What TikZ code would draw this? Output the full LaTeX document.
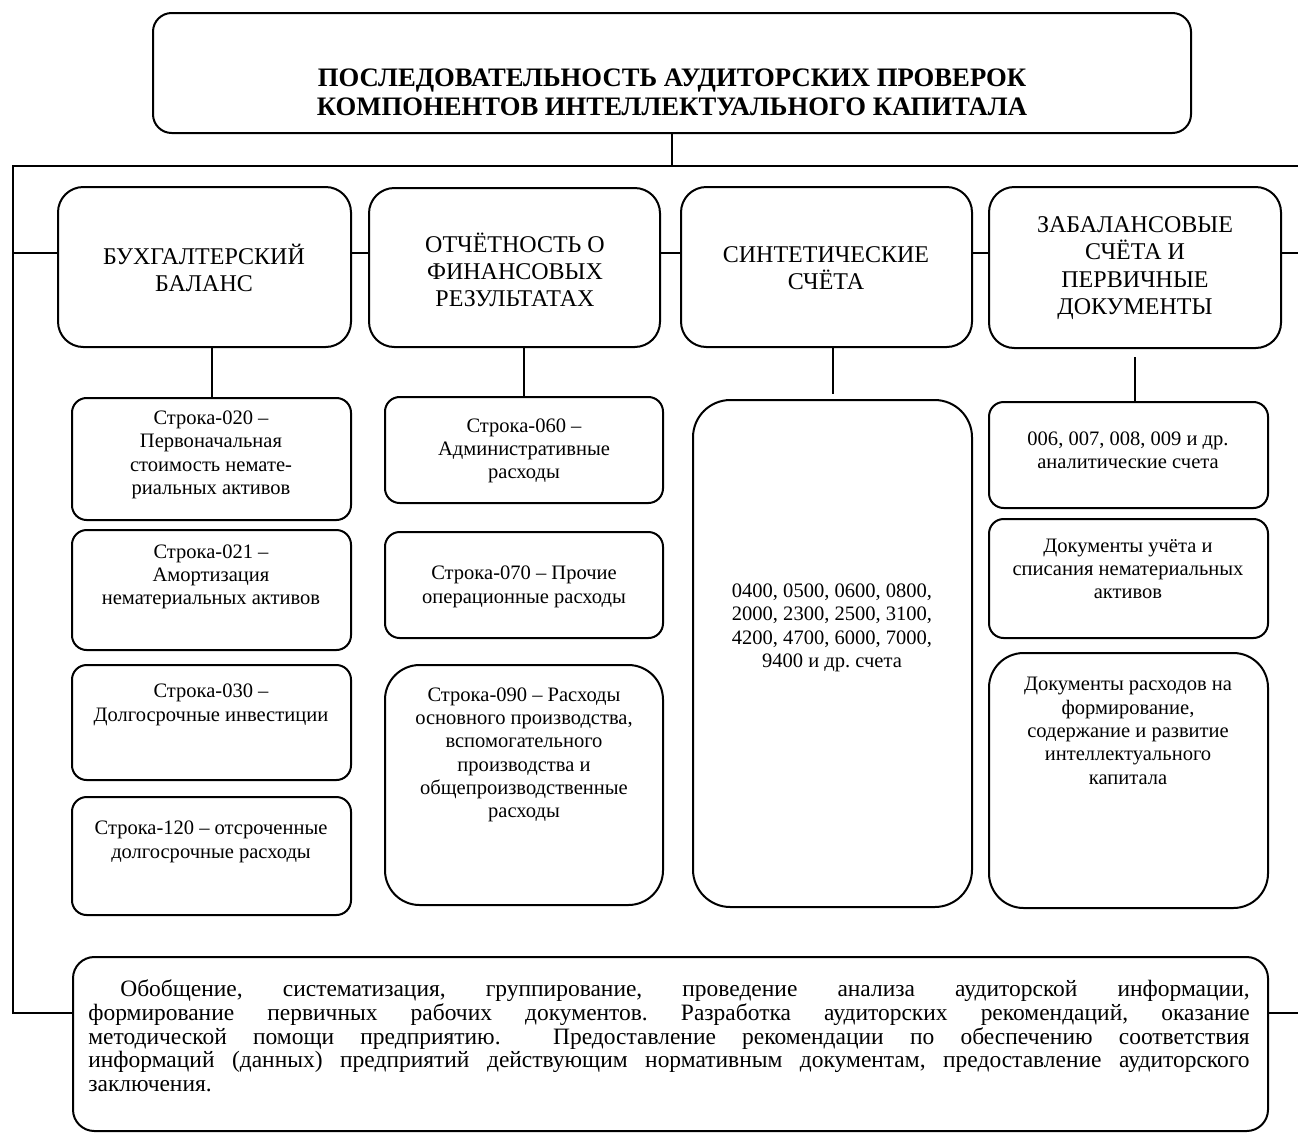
\documentclass[tikz,border=0pt]{standalone}
\usepackage{fontspec}
\setmainfont{Liberation Serif}
\usetikzlibrary{fit}
\frenchspacing

\begin{document}
\begin{tikzpicture}[x=0.75pt,y=0.75pt,yscale=-1,xscale=1,
  blk/.style={draw, line width=1.5pt, rounded corners=#1, inner sep=0pt},
  blk/.default=11pt,
  lnk/.style={line width=1.5pt},
  ttl/.style={align=center, inner sep=0pt, font=\fontsize{20}{22}\selectfont\bfseries},
  hdr/.style={align=center, inner sep=0pt, font=\fontsize{18}{20.4}\selectfont},
  cell/.style={align=center, inner sep=0pt, font=\fontsize{15.4}{17.5}\selectfont},
  para/.style={align=justify, inner sep=0pt, text width=871pt, font=\fontsize{17.6}{17.8}\selectfont}]
\useasboundingbox (0,0) rectangle (1298,1136);

%Title
\node[blk=14pt, fit={(153,13) (1191,133)}] (ttlbox) {};
\node[ttl] (ttltxt) at (672,92) {ПОСЛЕДОВАТЕЛЬНОСТЬ АУДИТОРСКИХ ПРОВЕРОК\\КОМПОНЕНТОВ ИНТЕЛЛЕКТУАЛЬНОГО КАПИТАЛА};

%Headers
\node[blk=19pt, fit={(58,187) (351,347)}] (buh) {};
\node[hdr] (tbuh) at (204,268) {БУХГАЛТЕРСКИЙ\\БАЛАНС};
\node[blk=19pt, fit={(369,188) (660,347)}] (otch) {};
\node[hdr] (totch) at (515,270) {ОТЧЁТНОСТЬ О\\ФИНАНСОВЫХ\\РЕЗУЛЬТАТАХ};
\node[blk=19pt, fit={(681,187) (972,347)}] (sint) {};
\node[hdr] (tsint) at (826,268) {СИНТЕТИЧЕСКИЕ\\СЧЁТА};
\node[blk=19pt, fit={(989,187) (1281,348)}] (zab) {};
\node[hdr] (tzab) at (1135,268) {ЗАБАЛАНСОВЫЕ\\СЧЁТА И\\ПЕРВИЧНЫЕ\\ДОКУМЕНТЫ};

%Column 1
\node[blk, fit={(72,398) (351,520)}] (c020) {};
\node[cell] (t020) at (211,455) {Строка-020 –\\Первоначальная\\стоимость немате-\\риальных активов};
\node[blk, fit={(72,530) (351,650)}] (c021) {};
\node[cell] (t021) at (211,577) {Строка-021 –\\Амортизация\\нематериальных активов};
\node[blk, fit={(72,665) (351,780)}] (c030) {};
\node[cell] (t030) at (211,705) {Строка-030 –\\Долгосрочные инвестиции};
\node[blk, fit={(72,797) (351,915)}] (c120) {};
\node[cell] (t120) at (211,842) {Строка-120 – отсроченные\\долгосрочные расходы};

%Column 2
\node[blk, fit={(385,397) (663,503)}] (c060) {};
\node[cell] (t060) at (524,451) {Строка-060 –\\Административные\\расходы};
\node[blk, fit={(385,532) (663,638)}] (c070) {};
\node[cell] (t070) at (524,587) {Строка-070 – Прочие\\операционные расходы};
\node[blk=26pt, fit={(385,665) (663,905)}] (c090) {};
\node[cell] (t090) at (524,755) {Строка-090 – Расходы\\основного производства,\\вспомогательного\\производства и\\общепроизводственные\\расходы};

%Column 3
\node[blk=28pt, fit={(693,400) (972,907)}] (c3) {};
\node[cell] (t3) at (832,628) {0400, 0500, 0600, 0800,\\2000, 2300, 2500, 3100,\\4200, 4700, 6000, 7000,\\9400 и др. счета};

%Column 4
\node[blk, fit={(989,402) (1268,508)}] (c006) {};
\node[cell] (t006) at (1128,450) {006, 007, 008, 009 и др.\\аналитические счета};
\node[blk, fit={(989,519) (1268,638)}] (cuch) {};
\node[cell] (tuch) at (1128,569) {Документы учёта и\\списания нематериальных\\активов};
\node[blk=26pt, fit={(989,653) (1268,908)}] (crash) {};
\node[cell] (trash) at (1128,731) {Документы расходов на\\формирование,\\содержание и развитие\\интеллектуального\\капитала};

%Summary
\node[blk=16pt, fit={(73,957) (1268,1131)}] (sum) {};
\node[para] (sumtxt) at (669,1036) {\hspace*{24pt}Обобщение, систематизация, группирование, проведение анализа аудиторской информации,\linebreak
формирование первичных рабочих документов. Разработка аудиторских рекомендаций, оказание\linebreak
методической помощи предприятию. \ Предоставление рекомендации по обеспечению соответствия\linebreak
информаций (данных) предприятий действующим нормативным документам, предоставление аудиторского\linebreak
заключения.};

%Connectors
\coordinate (L1) at (13,166); \coordinate (R1) at (1298,166);
\coordinate (L2) at (13,253); \coordinate (R2) at (1298,253);
\coordinate (L3) at (13,1013); \coordinate (R3) at (1298,1013);
\draw[lnk] (ttlbox.south) -- (ttlbox.south |- L1);
\draw[lnk] (R1) -- (L1) -- (L3) -- (sum.west |- L3);
\draw[lnk] (sum.east |- R3) -- (R3);
\draw[lnk] (L2) -- (buh.west |- L2);
\draw[lnk] (buh.east |- L2) -- (otch.west |- L2);
\draw[lnk] (otch.east |- L2) -- (sint.west |- L2);
\draw[lnk] (sint.east |- L2) -- (zab.west |- L2);
\draw[lnk] (zab.east |- L2) -- (R2);
\draw[lnk] (c020.north) -- (c020.north |- buh.south);
\draw[lnk] (c060.north) -- (c060.north |- otch.south);
\draw[lnk, shorten >=4pt] (c3.north |- sint.south) -- (c3.north);
\draw[lnk, shorten <=6pt] (zab.south) -- (zab.south |- c006.north);

\end{tikzpicture}
\end{document}
